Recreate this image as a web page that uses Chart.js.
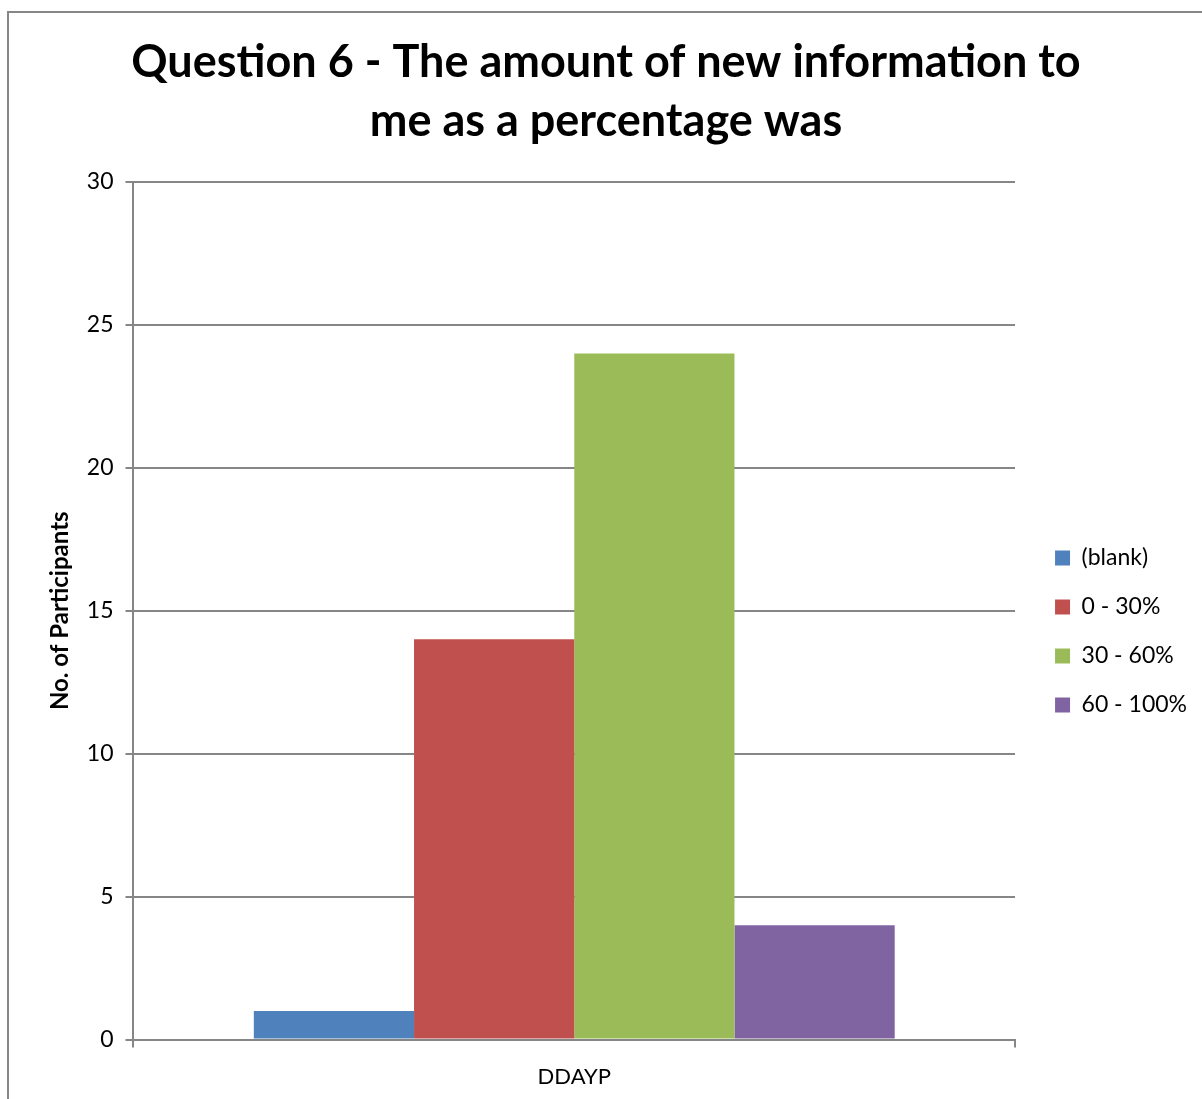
<!DOCTYPE html>
<html>
<head>
<meta charset="utf-8">
<script src="https://cdn.jsdelivr.net/npm/chart.js@4"></script>
<style>
  body { margin: 0; background: #fff; }
  #frame {
    position: absolute; left: 7px; top: 11px;
    width: 1195px; height: 1088px;
    border-left: 2px solid #878787; border-top: 2px solid #878787;
  }
  #wrap { position: absolute; left: 0; top: 0; width: 1202px; height: 1099px; }
</style>
</head>
<body>
<div id="frame"></div>
<div id="wrap"><canvas id="chart"></canvas></div>
<script>
const categories = ["DDAYP"];
const seriesNames = ["(blank)", "0 - 30%", "30 - 60%", "60 - 100%"];
const seriesValues = [[1], [14], [24], [4]];
const seriesColors = ["#4f81bd", "#c0504d", "#9bbb59", "#8064a2"];
const yTicks = [0, 5, 10, 15, 20, 25, 30];

const gridGray = "#868686";

const datasets = seriesNames.map((name, i) => ({
  label: name,
  data: seriesValues[i],
  backgroundColor: seriesColors[i],
  borderWidth: 0,
  barPercentage: 1,
  categoryPercentage: 0.727
}));

new Chart(document.getElementById("chart"), {
  type: "bar",
  data: { labels: categories, datasets: datasets },
  options: {
    responsive: true,
    maintainAspectRatio: false,
    animation: false,
    layout: { padding: { top: 33, right: 5, bottom: -7, left: 15 } },
    plugins: {
      title: {
        display: true,
        text: ["Question 6 - The amount of new information to", "me as a percentage was"],
        font: { family: "Lato", size: 45, weight: "bold", lineHeight: 1.31 },
        color: "#000",
        padding: { top: 0, bottom: 31 }
      },
      legend: {
        position: "right",
        title: { display: true, text: " ", font: { size: 10 }, padding: 56 },
        labels: {
          font: { family: "Lato", size: 23 },
          color: "#000",
          boxWidth: 15,
          boxHeight: 15,
          padding: 26
        }
      },
      tooltip: { enabled: false }
    },
    scales: {
      x: {
        grid: {
          drawOnChartArea: false,
          color: gridGray,
          lineWidth: 2,
          tickLength: 8
        },
        border: { color: gridGray, width: 2 },
        ticks: { font: { family: "Lato", size: 22 }, color: "#000", padding: 16 }
      },
      y: {
        min: 0,
        max: 30,
        afterBuildTicks: axis => { axis.ticks = yTicks.map(v => ({ value: v })); },
        grid: { color: gridGray, lineWidth: 2, tickLength: 8 },
        border: { color: gridGray, width: 2 },
        ticks: { font: { family: "Lato", size: 23 }, color: "#000", padding: 12 },
        title: {
          display: true,
          text: "No. of Participants",
          font: { family: "Lato", size: 24, weight: "bold" },
          color: "#000",
          padding: { top: 31, bottom: 0 }
        }
      },
      // empty axis only to keep a gap between plot and legend
      yGap: {
        position: "right",
        grid: { display: false },
        border: { display: false },
        ticks: { display: false },
        afterFit: axis => { axis.width = 14; }
      }
    }
  }
});
</script>
</body>
</html>
